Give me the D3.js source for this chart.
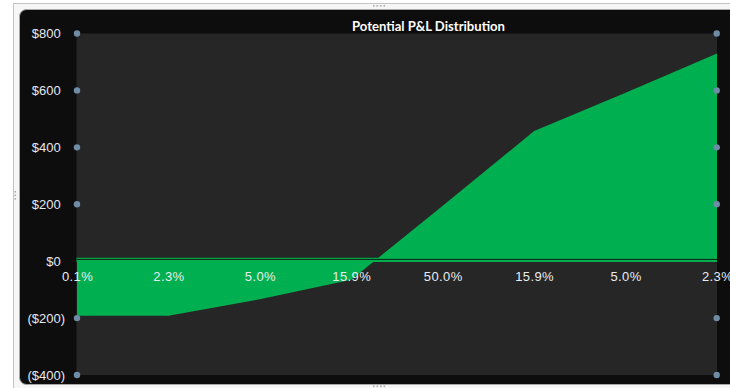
<!DOCTYPE html>
<html>
<head>
<meta charset="utf-8">
<script src="https://cdn.jsdelivr.net/npm/d3@7"></script>
<style>
  html, body { margin: 0; padding: 0; background: #ffffff; }
  svg { display: block; }
</style>
</head>
<body>
<svg id="chart" width="730" height="388"></svg>
<script>
// Scenario labels (probability of each price move) and the P&L at each scenario
const scenarioLabels = ["0.1%", "2.3%", "5.0%", "15.9%", "50.0%", "15.9%", "5.0%", "2.3%"];
const pnlValues = [-192, -192, -134, -65, 195, 457, 592, 730];
const yTickValues = [-400, -200, 0, 200, 400, 600, 800];
const chartTitle = "Potential P&L Distribution";

const svg = d3.select("#chart");
const W = 730, H = 388;

const plot = { left: 76.5, right: 717, top: 33.5, bottom: 375 };

// Worksheet-style frame around the chart object
svg.append("rect")
  .attr("x", 13.5).attr("y", 3.5)
  .attr("width", W).attr("height", H + 10)
  .attr("fill", "#f6f6f6").attr("stroke", "#c4c4c4");

// Chart area
svg.append("rect")
  .attr("x", 19.5).attr("y", 9.5)
  .attr("width", W + 20).attr("height", 375)
  .attr("rx", 7).attr("ry", 7)
  .attr("fill", "#0d0d0d").attr("stroke", "#a8a8a8");

// Resize grips
const grip = svg.append("g").attr("fill", "#a9a9a9");
[373, 376.5, 380, 383.5].forEach(x => grip.append("rect").attr("x", x).attr("y", 5).attr("width", 1.6).attr("height", 1.6));
[191, 194.5, 198].forEach(y => grip.append("rect").attr("x", 14.5).attr("y", y).attr("width", 1.6).attr("height", 1.6));
[373, 376.5, 380, 383.5].forEach(x => grip.append("rect").attr("x", x).attr("y", 385.5).attr("width", 1.6).attr("height", 1.6));

// Plot area
svg.append("rect")
  .attr("x", plot.left).attr("y", plot.top)
  .attr("width", plot.right - plot.left).attr("height", plot.bottom - plot.top)
  .attr("fill", "#262626");

const x = d3.scalePoint()
  .domain(d3.range(scenarioLabels.length))
  .range([77, 717]);

const y = d3.scaleLinear()
  .domain([-400, 800])
  .range([plot.bottom, plot.top]);

const y0 = y(0);

// P&L area
const area = d3.area()
  .x((d, i) => x(i))
  .y0(y0)
  .y1(d => y(d));

svg.append("path")
  .datum(pnlValues)
  .attr("d", area)
  .attr("fill", "#00b050");

// Zero line
svg.append("rect")
  .attr("x", plot.left).attr("y", y0 - 3.4)
  .attr("width", plot.right - plot.left).attr("height", 4.2)
  .attr("fill", "#00b050");
svg.append("rect")
  .attr("x", plot.left).attr("y", y0 - 2.3)
  .attr("width", plot.right - plot.left).attr("height", 1.1)
  .attr("fill", "#0c2d18");

// Axis handles at the gridline levels
const handles = svg.append("g");
yTickValues.filter(v => v !== 0).forEach(v => {
  [77, 716.7].forEach(hx => {
    handles.append("circle")
      .attr("cx", hx).attr("cy", y(v)).attr("r", 3.2)
      .attr("fill", "#6f8ca6");
  });
});

// Value axis
const fmtMoney = v => v < 0 ? "($" + Math.abs(v) + ")" : "$" + v;
const yAxis = d3.axisLeft(y)
  .tickValues(yTickValues)
  .tickSize(0)
  .tickPadding(0)
  .tickFormat(fmtMoney);

const yAxisG = svg.append("g")
  .attr("transform", "translate(65,0)")
  .call(yAxis);
yAxisG.select(".domain").remove();
yAxisG.selectAll("text")
  .attr("fill", "#e4e9ef")
  .attr("font-family", "Liberation Sans, Arial, sans-serif")
  .attr("font-size", "13px")
  .attr("dx", d => d < 0 ? 0 : -4.3)
  .attr("dy", "0.34em");

// Category axis labels
const xAxis = d3.axisBottom(x)
  .tickSize(0)
  .tickPadding(0)
  .tickFormat(i => scenarioLabels[i]);

const xAxisG = svg.append("g")
  .attr("transform", `translate(0,${y0})`)
  .call(xAxis);
xAxisG.select(".domain").remove();
xAxisG.selectAll("text")
  .attr("fill", "#e8ecf0")
  .attr("font-family", "Liberation Sans, Arial, sans-serif")
  .attr("font-size", "13px")
  .attr("letter-spacing", "0.4px")
  .attr("y", 0)
  .attr("dy", 20);

// Title
svg.append("text")
  .attr("x", 428.5).attr("y", 31.3)
  .attr("text-anchor", "middle")
  .attr("fill", "#ffffff")
  .attr("font-family", "Lato, sans-serif")
  .attr("font-weight", "bold")
  .attr("font-size", "13px")
  .attr("textLength", 153)
  .attr("lengthAdjust", "spacingAndGlyphs")
  .text(chartTitle);
</script>
</body>
</html>
